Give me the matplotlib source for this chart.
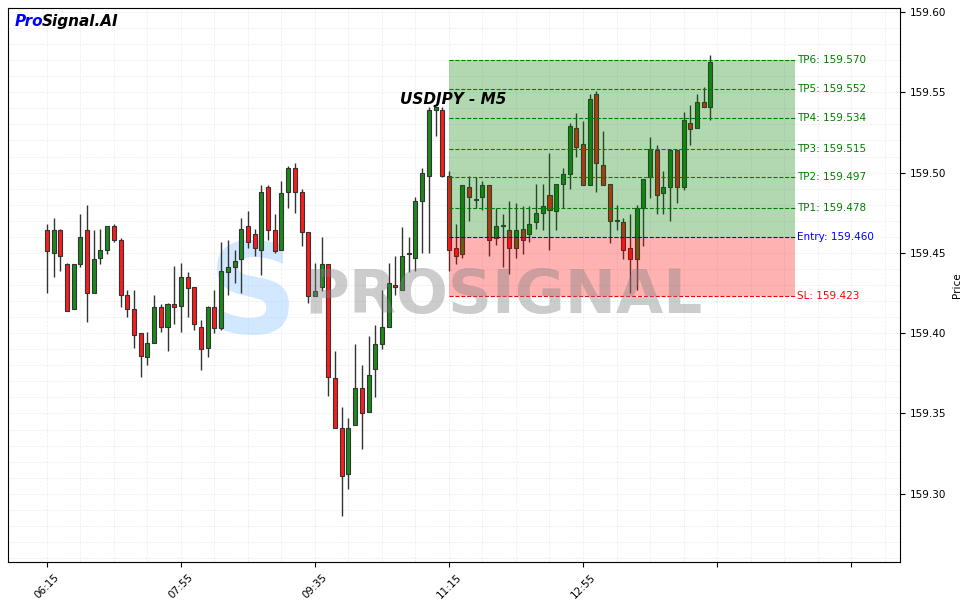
import numpy as np
import matplotlib.pyplot as plt
from matplotlib.patches import Rectangle

# 5-minute candles from 06:15 (index 0) to 14:30 (index 99)
opens = [159.464, 159.450, 159.464, 159.443, 159.415, 159.443, 159.464, 159.425, 159.447, 159.452,
         159.467, 159.458, 159.424, 159.415, 159.400, 159.385, 159.394, 159.416, 159.404, 159.418,
         159.417, 159.435, 159.429, 159.404, 159.391, 159.416, 159.403, 159.438, 159.441, 159.446,
         159.467, 159.462, 159.452, 159.491, 159.464, 159.452, 159.488, 159.503, 159.488, 159.463,
         159.423, 159.429, 159.443, 159.372, 159.341, 159.312, 159.343, 159.366, 159.351, 159.378,
         159.393, 159.404, 159.430, 159.427, 159.449, 159.447, 159.482, 159.498, 159.539, 159.539,
         159.498, 159.453, 159.449, 159.491, 159.483, 159.485, 159.492, 159.459, 159.467, 159.464,
         159.453, 159.465, 159.462, 159.469, 159.475, 159.486, 159.476, 159.493, 159.499, 159.528,
         159.518, 159.492, 159.549, 159.505, 159.493, 159.470, 159.469, 159.453, 159.446, 159.478,
         159.497, 159.514, 159.487, 159.491, 159.514, 159.491, 159.531, 159.528, 159.544, 159.541]
highs = [159.468, 159.472, 159.465, 159.444, 159.443, 159.474, 159.480, 159.464, 159.465, 159.467,
         159.468, 159.459, 159.427, 159.427, 159.400, 159.401, 159.424, 159.418, 159.419, 159.442,
         159.444, 159.438, 159.429, 159.408, 159.417, 159.427, 159.457, 159.458, 159.452, 159.472,
         159.476, 159.465, 159.492, 159.492, 159.474, 159.495, 159.504, 159.506, 159.490, 159.463,
         159.444, 159.460, 159.443, 159.389, 159.354, 159.347, 159.393, 159.380, 159.398, 159.405,
         159.427, 159.444, 159.448, 159.466, 159.460, 159.485, 159.503, 159.541, 159.541, 159.541,
         159.501, 159.468, 159.492, 159.498, 159.497, 159.495, 159.492, 159.478, 159.474, 159.482,
         159.481, 159.479, 159.479, 159.493, 159.493, 159.512, 159.493, 159.503, 159.531, 159.537,
         159.532, 159.549, 159.551, 159.526, 159.493, 159.480, 159.472, 159.474, 159.480, 159.496,
         159.522, 159.517, 159.501, 159.514, 159.514, 159.538, 159.542, 159.549, 159.553, 159.573]
lows = [159.425, 159.435, 159.439, 159.414, 159.415, 159.441, 159.407, 159.425, 159.443, 159.449,
        159.457, 159.416, 159.410, 159.391, 159.373, 159.380, 159.394, 159.401, 159.389, 159.406,
        159.401, 159.410, 159.402, 159.377, 159.385, 159.400, 159.402, 159.424, 159.431, 159.425,
        159.453, 159.448, 159.436, 159.458, 159.450, 159.452, 159.478, 159.475, 159.454, 159.419,
        159.423, 159.426, 159.361, 159.341, 159.286, 159.303, 159.343, 159.328, 159.351, 159.360,
        159.390, 159.404, 159.424, 159.427, 159.438, 159.439, 159.450, 159.450, 159.523, 159.497,
        159.439, 159.443, 159.447, 159.470, 159.478, 159.477, 159.448, 159.455, 159.441, 159.437,
        159.447, 159.449, 159.457, 159.465, 159.464, 159.452, 159.464, 159.478, 159.490, 159.510,
        159.492, 159.492, 159.488, 159.492, 159.456, 159.464, 159.446, 159.425, 159.427, 159.454,
        159.484, 159.474, 159.474, 159.470, 159.481, 159.489, 159.517, 159.528, 159.541, 159.533]
closes = [159.451, 159.464, 159.448, 159.414, 159.443, 159.460, 159.425, 159.446, 159.452, 159.467,
          159.458, 159.424, 159.415, 159.399, 159.386, 159.394, 159.416, 159.404, 159.418, 159.416,
          159.435, 159.428, 159.406, 159.390, 159.416, 159.403, 159.439, 159.441, 159.445, 159.465,
          159.457, 159.453, 159.488, 159.464, 159.451, 159.487, 159.503, 159.488, 159.463, 159.423,
          159.426, 159.443, 159.373, 159.341, 159.311, 159.341, 159.366, 159.350, 159.374, 159.393,
          159.404, 159.431, 159.429, 159.448, 159.450, 159.482, 159.500, 159.539, 159.541, 159.498,
          159.452, 159.448, 159.492, 159.485, 159.483, 159.492, 159.458, 159.467, 159.467, 159.453,
          159.464, 159.458, 159.468, 159.475, 159.479, 159.477, 159.493, 159.499, 159.529, 159.516,
          159.492, 159.546, 159.506, 159.492, 159.470, 159.470, 159.452, 159.446, 159.478, 159.496,
          159.515, 159.486, 159.491, 159.514, 159.491, 159.533, 159.527, 159.544, 159.541, 159.569]

tick_labels = ["06:15", "07:55", "09:35", "11:15", "12:55", "", ""]
entry = 159.460
sl = 159.423
tp_levels = [159.478, 159.497, 159.515, 159.534, 159.552, 159.570]
zone_start, zone_end = 60, 111.6

fig = plt.figure(figsize=(9.63, 6.04), dpi=100)
ax = fig.add_axes([8 / 963, 42 / 604, 892 / 963, 554 / 604])

for i in range(len(opens)):
    o, h, l, c = opens[i], highs[i], lows[i], closes[i]
    col = "#1a8a1a" if c >= o else "#ff1a1a"
    ax.vlines(i, l, h, color="#333333", linewidth=1, zorder=2)
    lo, hi = min(o, c), max(o, c)
    ax.add_patch(Rectangle((i - 0.3, lo), 0.6, max(hi - lo, 0.0004),
                           facecolor=col, edgecolor="#333333", linewidth=0.8, zorder=3))

# trade zones
ax.add_patch(Rectangle((zone_start, entry), zone_end - zone_start, tp_levels[-1] - entry,
                       facecolor="green", alpha=0.3, linewidth=0, zorder=4))
ax.add_patch(Rectangle((zone_start, sl), zone_end - zone_start, entry - sl,
                       facecolor="red", alpha=0.3, linewidth=0, zorder=4))
for k, tp in enumerate(tp_levels):
    ax.hlines(tp, zone_start, zone_end, colors="green", linestyles="--", linewidth=0.8, zorder=5)
    ax.text(zone_end + 0.3, tp, f"TP{k + 1}: {tp:.3f}", color="green", fontsize=7.5, va="center")
ax.hlines(entry, zone_start, zone_end, colors="blue", linestyles="--", linewidth=0.8, zorder=5)
ax.text(zone_end + 0.3, entry, f"Entry: {entry:.3f}", color="blue", fontsize=7.5, va="center")
ax.hlines(sl, zone_start, zone_end, colors="red", linestyles="--", linewidth=0.8, zorder=5)
ax.text(zone_end + 0.3, sl, f"SL: {sl:.3f}", color="red", fontsize=7.5, va="center")

# watermark
ax.text(0.275, 0.475, "S", transform=ax.transAxes, fontsize=90, fontweight="bold",
        color="#99ccff", alpha=0.45, ha="center", va="center", zorder=1)
ax.text(0.555, 0.48, "PROSIGNAL", transform=ax.transAxes, fontsize=44, fontweight="bold",
        color="gray", alpha=0.4, ha="center", va="center", zorder=6)

ax.text(0.499, 0.835, "USDJPY - M5", transform=ax.transAxes, fontsize=11,
        fontweight="bold", fontstyle="italic", ha="center", va="center", zorder=7)
ax.text(0.008, 0.975, "Pro", transform=ax.transAxes, fontsize=11, fontweight="bold",
        fontstyle="italic", color="blue", va="center")
ax.text(0.038, 0.975, "Signal.AI", transform=ax.transAxes, fontsize=11, fontweight="bold",
        fontstyle="italic", color="black", va="center")

ax.set_xlim(-5.8, 127.3)
ax.set_ylim(159.2575, 159.6025)
ax.set_xticks(np.arange(0, 121, 20))
ax.set_xticklabels(tick_labels, rotation=45, fontsize=7.5)
ax.set_yticks(np.arange(159.30, 159.601, 0.05))
ax.set_yticklabels([f"{v:.2f}" for v in np.arange(159.30, 159.601, 0.05)], fontsize=7.5)
ax.yaxis.tick_right()
ax.yaxis.set_label_position("right")
ax.set_ylabel("Price", fontsize=7.5)
ax.set_xticks(np.arange(0, 127, 5), minor=True)
ax.set_yticks(np.arange(159.26, 159.60, 0.01), minor=True)
ax.tick_params(which="minor", length=0)
ax.grid(True, which="both", color="#ececec", linestyle="--", linewidth=0.5, zorder=0)
ax.set_axisbelow(True)

fig.savefig("out.png", dpi=100)
